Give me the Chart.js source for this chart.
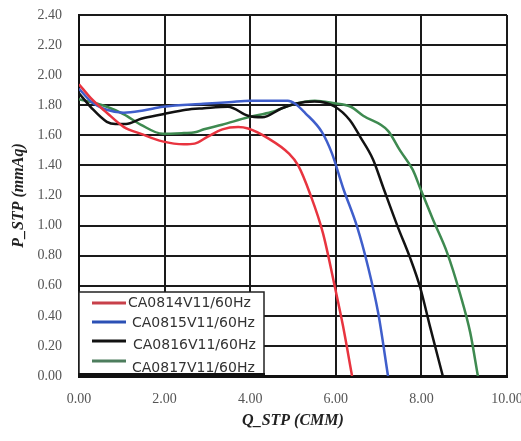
<!DOCTYPE html>
<html>
<head>
<meta charset="utf-8">
<script src="https://cdn.jsdelivr.net/npm/chart.js@4/dist/chart.umd.min.js"></script>
<style>
  html, body { margin: 0; padding: 0; background: #fff; }
  #wrap { width: 521px; height: 441px; position: relative; }
</style>
</head>
<body>
<div id="wrap"><canvas id="c" width="521" height="441"></canvas></div>
<script>
// ---- Data ----
const seriesNames = ['CA0814V11/60Hz', 'CA0815V11/60Hz', 'CA0816V11/60Hz', 'CA0817V11/60Hz'];

const q0814 = [0, 0.3, 0.65, 1.05, 1.45, 1.95, 2.45, 2.7, 3.0, 3.35, 3.72, 3.95, 4.42, 4.9, 5.12, 5.4, 5.7, 5.98, 6.17, 6.38];
const p0814 = [1.94, 1.84, 1.75, 1.655, 1.61, 1.56, 1.54, 1.545, 1.59, 1.64, 1.655, 1.645, 1.58, 1.48, 1.40, 1.21, 0.95, 0.59, 0.33, 0.0];

const q0815 = [0, 0.3, 0.65, 1.05, 1.5, 1.96, 2.9, 3.5, 4.0, 4.88, 5.05, 5.28, 5.68, 5.91, 6.17, 6.5, 6.75, 6.99, 7.22];
const p0815 = [1.91, 1.82, 1.77, 1.75, 1.765, 1.79, 1.81, 1.82, 1.83, 1.83, 1.81, 1.75, 1.62, 1.48, 1.25, 0.99, 0.73, 0.42, 0.0];

const q0816 = [0, 0.3, 0.65, 0.85, 1.1, 1.45, 1.96, 2.5, 2.92, 3.48, 3.95, 4.28, 4.74, 5.05, 5.5, 5.98, 6.33, 6.57, 6.87, 7.1, 7.45, 7.73, 7.97, 8.2, 8.5];
const p0816 = [1.88, 1.78, 1.69, 1.675, 1.675, 1.71, 1.74, 1.77, 1.78, 1.79, 1.73, 1.72, 1.78, 1.81, 1.825, 1.79, 1.70, 1.59, 1.44, 1.26, 0.99, 0.79, 0.59, 0.33, 0.0];

const q0817 = [0, 0.3, 0.65, 1.05, 1.45, 1.96, 2.45, 2.71, 2.92, 3.34, 3.95, 4.5, 5.05, 5.51, 5.93, 6.35, 6.64, 7.22, 7.5, 7.8, 7.97, 8.27, 8.6, 8.9, 9.14, 9.32];
const p0817 = [1.84, 1.82, 1.79, 1.74, 1.67, 1.61, 1.615, 1.62, 1.64, 1.67, 1.72, 1.755, 1.81, 1.83, 1.815, 1.79, 1.73, 1.63, 1.50, 1.37, 1.25, 1.04, 0.82, 0.55, 0.29, 0.0];

const xTickMin = 0, xTickMax = 10, xTickStep = 2;
const yTickMin = 0, yTickMax = 2.4, yTickStep = 0.2;
const xTitle = 'Q_STP (CMM)';
const yTitle = 'P_STP (mmAq)';

// ---- Styles ----
const lineColors = ['#e8343f', '#3f5ecb', '#121212', '#3e8a50'];
const legendColors = ['#c8404a', '#2b50b5', '#111111', '#4d7d5d'];

function toPts(qs, ps) { return qs.map((q, i) => ({ x: q, y: ps[i] })); }
const seriesData = [toPts(q0814, p0814), toPts(q0815, p0815), toPts(q0816, p0816), toPts(q0817, p0817)];

const serif = '"Liberation Serif", "Times New Roman", serif';

const boxLegend = {
  id: 'boxLegend',
  afterDraw(chart) {
    const { ctx, chartArea: a } = chart;
    const w = 185, h = 84;
    const x0 = a.left, y0 = a.bottom - h;
    ctx.save();
    ctx.fillStyle = '#ffffff';
    ctx.fillRect(x0, y0, w, h);
    ctx.strokeStyle = '#222';
    ctx.lineWidth = 1.5;
    ctx.strokeRect(x0, y0, w, h);
    ctx.beginPath();
    ctx.rect(x0, y0, w, h);
    ctx.clip();
    const lineY = [11, 30, 49, 69];
    const textY = [11, 31, 53, 76];
    const textX = [49, 53, 54, 53];
    ctx.font = '14px "DejaVu Sans", Verdana, sans-serif';
    ctx.textBaseline = 'middle';
    ctx.textAlign = 'left';
    seriesNames.forEach((name, i) => {
      ctx.strokeStyle = legendColors[i];
      ctx.lineWidth = 3;
      ctx.beginPath();
      ctx.moveTo(x0 + 13, y0 + lineY[i]);
      ctx.lineTo(x0 + 47, y0 + lineY[i]);
      ctx.stroke();
      ctx.fillStyle = '#333';
      ctx.fillText(name, x0 + textX[i], y0 + textY[i]);
    });
    ctx.restore();
    ctx.save();
    ctx.strokeStyle = '#111';
    ctx.lineWidth = 4;
    ctx.beginPath();
    ctx.moveTo(x0 - 1, a.bottom - 1);
    ctx.lineTo(x0 + w + 1, a.bottom - 1);
    ctx.stroke();
    ctx.restore();
  }
};

new Chart(document.getElementById('c'), {
  type: 'line',
  data: {
    datasets: seriesData.map((d, i) => ({
      label: seriesNames[i],
      data: d,
      borderColor: lineColors[i],
      borderWidth: 2.5,
      pointRadius: 0,
      fill: false,
      cubicInterpolationMode: 'monotone'
    }))
  },
  options: {
    responsive: false,
    animation: false,
    devicePixelRatio: 1,
    layout: { padding: { top: 15, right: 14, left: 0, bottom: 0 } },
    plugins: { legend: { display: false }, tooltip: { enabled: false } },
    scales: {
      x: {
        type: 'linear',
        min: xTickMin, max: xTickMax,
        ticks: {
          stepSize: xTickStep,
          callback: v => Number(v).toFixed(2),
          font: { family: serif, size: 14 },
          color: '#555',
          padding: 15,
          maxRotation: 0
        },
        grid: { color: '#1a1a1a', lineWidth: 2, drawTicks: false },
        border: { display: true, color: '#111', width: 3 },
        title: {
          display: true, text: xTitle, color: '#222',
          font: { family: serif, size: 16, weight: 'bold', style: 'italic' },
          padding: { top: 0, bottom: 11 }
        },
        afterFit: s => { s.height = 65; s.paddingLeft = 0; s.paddingRight = 0; }
      },
      y: {
        type: 'linear',
        min: yTickMin, max: yTickMax,
        ticks: {
          stepSize: yTickStep,
          callback: v => Number(v).toFixed(2),
          font: { family: serif, size: 14 },
          color: '#555',
          padding: 17
        },
        grid: { color: '#1a1a1a', lineWidth: 2, drawTicks: false },
        border: { display: true, color: '#111', width: 2 },
        title: {
          display: true, text: yTitle, color: '#222',
          font: { family: serif, size: 16, weight: 'bold', style: 'italic' },
          padding: { top: 9, bottom: 0 }
        },
        afterFit: s => { s.width = 79; s.paddingTop = 0; s.paddingBottom = 0; }
      }
    }
  },
  plugins: [boxLegend]
});
</script>
</body>
</html>
